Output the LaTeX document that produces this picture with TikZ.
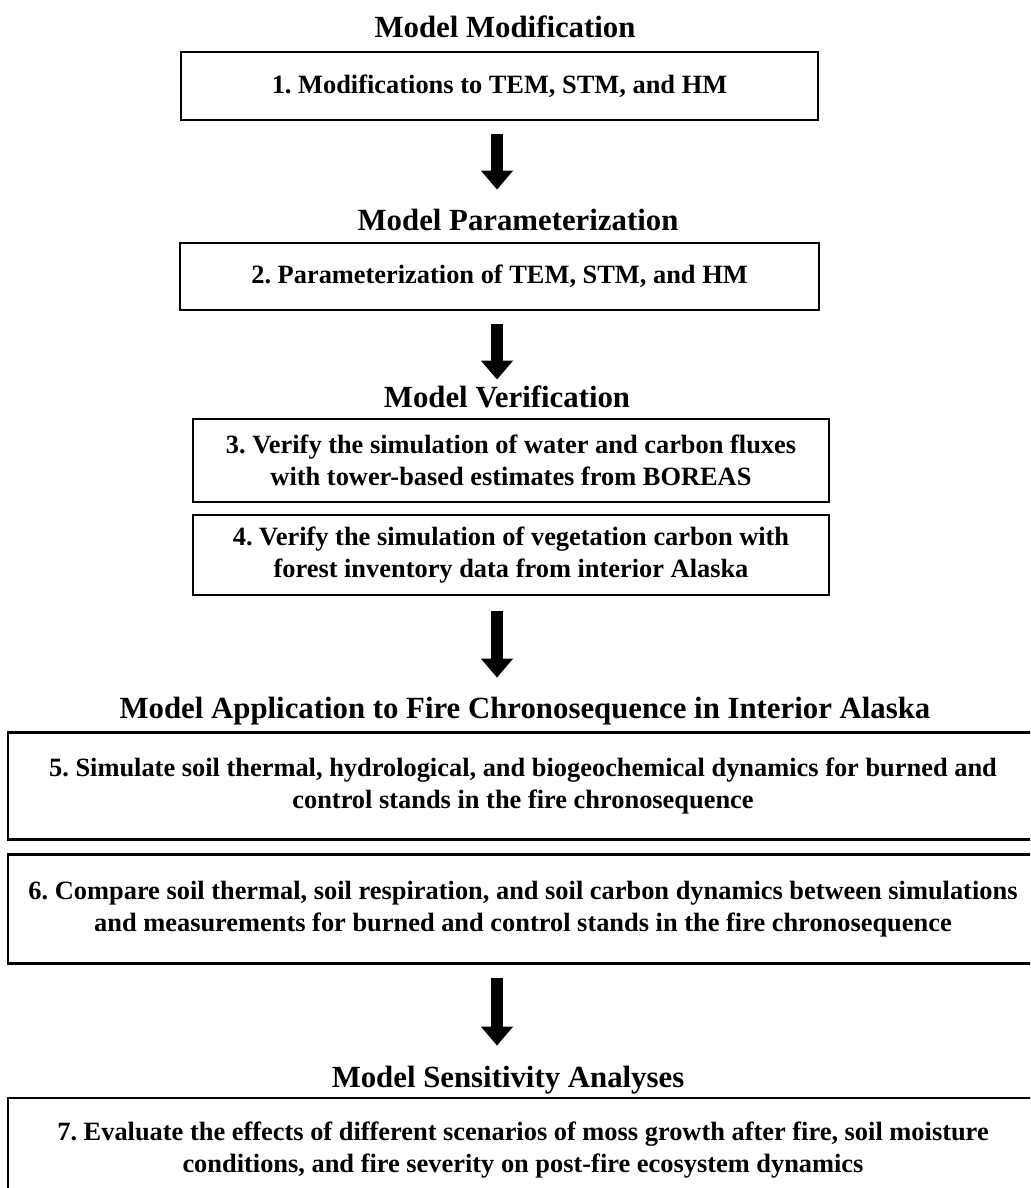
\documentclass[tikz,border=0pt]{standalone}
\usepackage{fontspec}
\setmainfont{Liberation Serif}
\usetikzlibrary{arrows.meta}
\frenchspacing

\begin{document}
\begin{tikzpicture}[
    x=0.5pt, y=-0.5pt,
    box/.style={draw, line width=1.1pt, align=center, inner sep=0pt, font=\bfseries\fontsize{13.2}{16}\selectfont},
    title/.style={anchor=base, inner sep=0pt, text height=11pt, font=\bfseries\fontsize{15.4}{18}\selectfont},
    arrow/.style={-{Triangle[width=15.5pt, length=9.5pt]}, line width=6pt, shorten <=6.5pt}
]
\useasboundingbox (0,0) rectangle (1030,1188);
\clip (0,0) rectangle (1030,1188);
\coordinate (axis) at (497,0);

\node[title] (t1) at (505,38) {Model Modification};
\node[box, minimum width=318.5pt, minimum height=34pt] (b1) at (499.5,86) {1. Modifications to TEM, STM, and HM};

\node[title] (t2) at (518,230) {Model Parameterization};
\node[box, minimum width=319.5pt, minimum height=33.5pt] (b2) at (499.5,276.5) {2. Parameterization of TEM, STM, and HM};

\node[title] (t3) at (507,407) {Model Verification};
\node[box, minimum width=318pt, minimum height=41.5pt] (b3) at (511,460.5)
    {3. Verify the simulation of water and carbon fluxes\\with tower-based estimates from BOREAS};
\node[box, minimum width=318pt, minimum height=40pt] (b4) at (511,555)
    {4. Verify the simulation of vegetation carbon with\\forest inventory data from interior Alaska};

\node[title] (t4) at (525,718) {Model Application to Fire Chronosequence in Interior Alaska};
\node[box, minimum width=515pt, minimum height=53.5pt] (b5) at (523,786)
    {5. Simulate soil thermal, hydrological, and biogeochemical dynamics for burned and\\control stands in the fire chronosequence};
\node[box, minimum width=515pt, minimum height=54.5pt] (b6) at (523,909)
    {6. Compare soil thermal, soil respiration, and soil carbon dynamics between simulations\\and measurements for burned and control stands in the fire chronosequence};

\node[title] (t5) at (508,1087) {Model Sensitivity Analyses};
\node[box, minimum width=515pt, minimum height=52pt] (b7) at (523,1150)
    {7. Evaluate the effects of different scenarios of moss growth after fire, soil moisture\\conditions, and fire severity on post-fire ecosystem dynamics};

\draw[arrow, shorten >=9pt] (b1.south -| axis) -- (t2.north -| axis);
\draw[arrow, shorten >=2.5pt] (b2.south -| axis) -- (t3.north -| axis);
\draw[arrow, shorten <=7.5pt, shorten >=9pt] (b4.south -| axis) -- (t4.north -| axis);
\draw[arrow, shorten >=9.5pt] (b6.south -| axis) -- (t5.north -| axis);
\end{tikzpicture}
\end{document}
